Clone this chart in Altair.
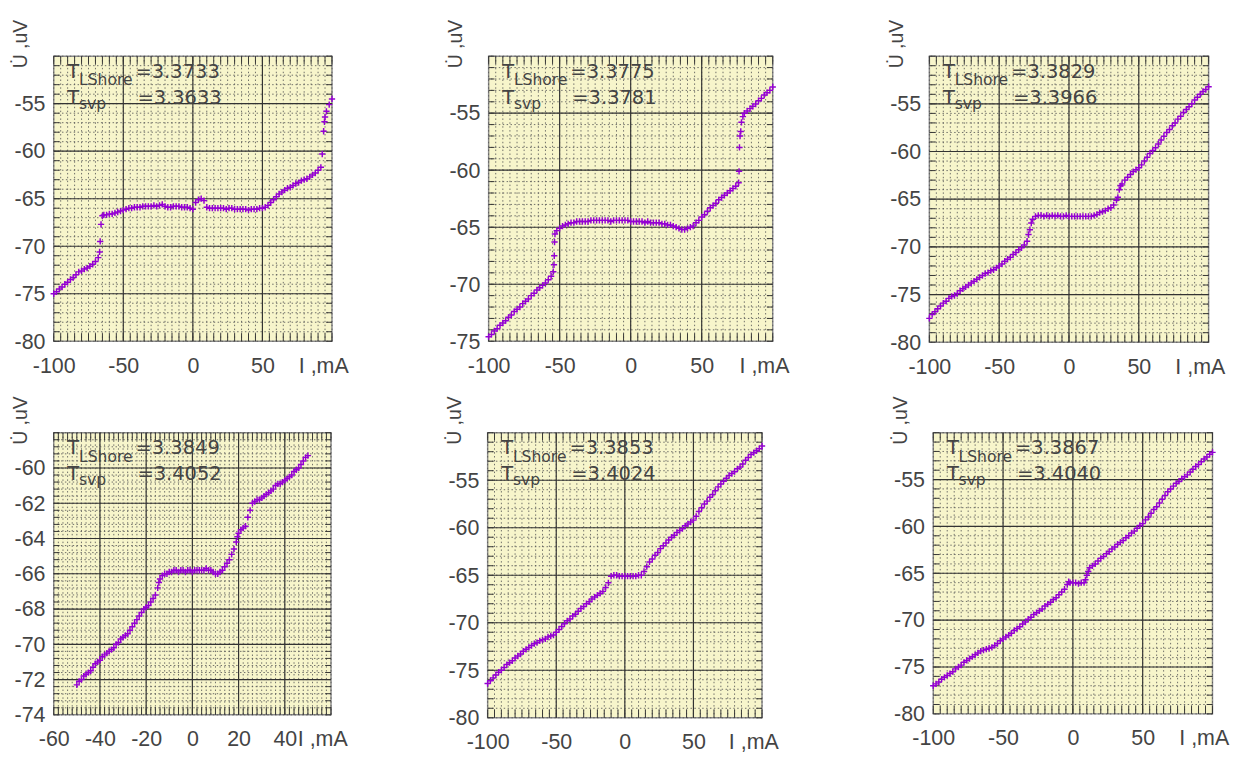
import altair as alt
import pandas as pd

# ---------------- data: (I [mA], U [uV]) ----------------
P1 = [(-100,-75.0),(-98,-74.8),(-96,-74.5),(-94,-74.3),(-92,-74.0),(-90,-73.8),(-88,-73.5),(-86,-73.3),
      (-84,-73.0),(-82,-72.7),(-80,-72.6),(-78,-72.4),(-76,-72.3),(-74,-72.1),(-72,-71.9),(-70,-71.6),
      (-68,-71.2),(-67,-70.6),(-66.6,-69.5),(-66,-67.7),(-65,-66.8),(-64,-66.7),(-62,-66.7),(-60,-66.6),
      (-58,-66.6),(-56,-66.5),(-54,-66.4),(-52,-66.3),(-50,-66.2),(-48,-66.1),(-46,-66.0),(-44,-66.0),
      (-42,-65.9),(-40,-65.9),(-38,-65.9),(-36,-65.8),(-34,-65.8),(-32,-65.8),(-30,-65.8),(-28,-65.7),
      (-26,-65.8),(-24,-65.7),(-22,-65.6),(-20,-65.8),(-18,-65.9),(-16,-65.9),(-14,-65.8),(-12,-65.8),
      (-10,-65.8),(-8,-65.9),(-6,-65.9),(-4,-65.9),(-2,-66.0),(0,-66.1),(2,-65.4),(4,-65.1),(6,-65.0),
      (8,-65.2),(10,-65.9),(12,-66.0),(14,-66.0),(16,-66.0),(18,-66.0),(20,-66.0),(22,-66.0),(24,-66.1),
      (26,-66.0),(28,-66.0),(30,-66.1),(32,-66.1),(34,-66.1),(36,-66.1),(38,-66.1),(40,-66.2),(42,-66.1),
      (44,-66.1),(46,-66.1),(48,-66.0),(50,-66.0),(52,-65.9),(54,-65.7),(56,-65.4),(58,-65.1),(60,-64.8),
      (62,-64.5),(64,-64.3),(66,-64.1),(68,-63.9),(70,-63.8),(72,-63.6),(74,-63.4),(76,-63.3),(78,-63.1),
      (80,-63.0),(82,-62.9),(84,-62.7),(86,-62.5),(88,-62.3),(90,-62.0),(92,-61.7),(93,-60.3),(94,-57.9),
      (94.6,-56.9),(95,-56.4),(96,-55.8),(98,-55.1),(100,-54.5)]

P2 = [(-100,-74.6),(-98,-74.4),(-96,-74.1),(-94,-73.9),(-92,-73.6),(-90,-73.4),(-88,-73.2),(-86,-72.9),
      (-84,-72.7),(-82,-72.4),(-80,-72.2),(-78,-72.0),(-76,-71.7),(-74,-71.5),(-72,-71.3),(-70,-71.0),
      (-68,-70.8),(-66,-70.5),(-64,-70.3),(-62,-70.1),(-60,-69.9),(-58,-69.6),(-56,-69.3),(-54.5,-68.9),
      (-54,-68.3),(-53.8,-67.5),(-53.6,-66.3),(-53.3,-65.6),(-52,-65.3),(-50,-65.1),(-48,-64.9),(-46,-64.8),
      (-44,-64.7),(-42,-64.6),(-40,-64.6),(-38,-64.5),(-36,-64.5),(-34,-64.5),(-32,-64.5),(-30,-64.5),
      (-28,-64.4),(-26,-64.4),(-24,-64.4),(-22,-64.4),(-20,-64.4),(-18,-64.4),(-16,-64.4),(-14,-64.5),
      (-12,-64.4),(-10,-64.4),(-8,-64.4),(-6,-64.4),(-4,-64.4),(-2,-64.4),(0,-64.5),(2,-64.5),(4,-64.5),
      (6,-64.5),(8,-64.5),(10,-64.6),(12,-64.5),(14,-64.6),(16,-64.6),(18,-64.6),(20,-64.6),(22,-64.7),
      (24,-64.7),(26,-64.8),(28,-64.8),(30,-64.9),(32,-65.0),(34,-65.1),(36,-65.2),(38,-65.2),(40,-65.1),
      (42,-65.0),(44,-64.9),(46,-64.6),(48,-64.4),(50,-64.1),(52,-63.9),(54,-63.6),(56,-63.3),(58,-63.1),
      (60,-62.9),(62,-62.6),(64,-62.4),(66,-62.2),(68,-62.0),(70,-61.8),(72,-61.6),(74,-61.4),(76,-61.1),
      (76.3,-60.1),(76.6,-58.0),(77,-57.0),(77.5,-56.6),(78,-55.8),(79,-55.3),(80,-55.0),(82,-54.8),
      (84,-54.6),(86,-54.4),(88,-54.2),(90,-53.9),(92,-53.7),(94,-53.4),(96,-53.2),(98,-53.0),(100,-52.7)]

P3 = [(-100,-77.5),(-98,-77.1),(-96,-76.8),(-94,-76.5),(-92,-76.2),(-90,-75.9),(-88,-75.7),(-86,-75.4),
      (-84,-75.2),(-82,-75.1),(-80,-74.9),(-78,-74.6),(-76,-74.4),(-74,-74.2),(-72,-74.0),(-70,-73.8),
      (-68,-73.6),(-66,-73.4),(-64,-73.2),(-62,-73.0),(-60,-72.8),(-58,-72.7),(-56,-72.5),(-54,-72.4),
      (-52,-72.2),(-50,-72.0),(-48,-71.8),(-46,-71.5),(-44,-71.3),(-42,-71.1),(-40,-70.8),(-38,-70.6),
      (-36,-70.3),(-34,-70.1),(-32,-69.8),(-30,-69.4),(-29,-68.7),(-28,-68.2),(-27,-67.5),(-26,-67.1),
      (-24,-66.8),(-22,-66.7),(-20,-66.7),(-18,-66.8),(-16,-66.7),(-14,-66.8),(-12,-66.7),(-10,-66.8),
      (-8,-66.7),(-6,-66.8),(-4,-66.8),(-2,-66.7),(0,-66.8),(2,-66.8),(4,-66.8),(6,-66.8),(8,-66.8),
      (10,-66.8),(12,-66.8),(14,-66.8),(16,-66.8),(18,-66.7),(20,-66.6),(22,-66.4),(24,-66.3),(26,-66.2),
      (28,-66.0),(30,-65.9),(32,-65.6),(34,-65.1),(35,-64.8),(36,-64.0),(37,-63.6),(38,-63.4),(40,-63.0),
      (42,-62.7),(44,-62.4),(46,-62.1),(48,-61.9),(50,-61.7),(52,-61.4),(54,-61.0),(56,-60.6),(58,-60.2),
      (60,-59.9),(62,-59.6),(64,-59.2),(66,-58.8),(68,-58.4),(70,-58.0),(72,-57.7),(74,-57.3),(76,-57.0),
      (78,-56.6),(80,-56.3),(82,-55.9),(84,-55.6),(86,-55.3),(88,-55.0),(90,-54.6),(92,-54.3),(94,-54.0),
      (96,-53.7),(98,-53.5),(100,-53.2)]

P4 = [(-50,-72.3),(-49,-72.1),(-48,-72.0),(-47,-71.8),(-46,-71.7),(-45,-71.6),(-44,-71.5),(-43,-71.3),
      (-42,-71.1),(-41,-71.0),(-40,-70.9),(-39,-70.7),(-38,-70.6),(-37,-70.5),(-36,-70.4),(-35,-70.3),
      (-34,-70.2),(-33,-70.0),(-32,-69.9),(-31,-69.7),(-30,-69.6),(-29,-69.5),(-28,-69.4),(-27,-69.2),
      (-26,-69.0),(-25,-68.8),(-24,-68.6),(-23,-68.4),(-22,-68.2),(-21,-68.0),(-20,-67.9),(-19,-67.8),
      (-18,-67.6),(-17,-67.4),(-16,-67.2),(-15,-66.8),(-14.5,-66.5),(-14,-66.3),(-13,-66.1),(-12,-66.0),
      (-11,-66.0),(-10,-65.9),(-9,-65.9),(-8,-65.8),(-7,-65.8),(-6,-65.9),(-5,-65.8),(-4,-65.8),(-3,-65.9),
      (-2,-65.8),(-1,-65.8),(0,-65.9),(1,-65.8),(2,-65.8),(3,-65.8),(4,-65.8),(5,-65.8),(6,-65.7),
      (7,-65.8),(8,-65.8),(9,-65.9),(10,-66.0),(11,-66.0),(12,-65.9),(13,-65.8),(14,-65.6),(15,-65.4),
      (16,-65.2),(17,-64.9),(18,-64.6),(19,-64.2),(19.5,-63.9),(20,-63.7),(21,-63.5),(22,-63.4),(23,-63.3),
      (24,-62.8),(25,-62.4),(26,-62.0),(27,-61.9),(28,-61.8),(29,-61.8),(30,-61.7),(31,-61.6),(32,-61.5),
      (33,-61.4),(34,-61.3),(35,-61.2),(36,-61.0),(37,-60.9),(38,-60.9),(39,-60.8),(40,-60.7),(41,-60.6),
      (42,-60.5),(43,-60.4),(44,-60.2),(45,-60.1),(46,-60.0),(47,-59.8),(48,-59.6),(49,-59.4),(50,-59.3)]

P5 = [(-100,-76.4),(-98,-76.1),(-96,-75.8),(-94,-75.5),(-92,-75.2),(-90,-75.0),(-88,-74.7),(-86,-74.4),
      (-84,-74.2),(-82,-74.0),(-80,-73.7),(-78,-73.5),(-76,-73.3),(-74,-73.0),(-72,-72.8),(-70,-72.6),
      (-68,-72.4),(-66,-72.2),(-64,-72.1),(-62,-71.9),(-60,-71.8),(-58,-71.7),(-56,-71.5),(-54,-71.4),
      (-52,-71.3),(-50,-71.0),(-48,-70.7),(-46,-70.4),(-44,-70.1),(-42,-69.8),(-40,-69.6),(-38,-69.3),
      (-36,-69.1),(-34,-68.8),(-32,-68.5),(-30,-68.3),(-28,-68.0),(-26,-67.8),(-24,-67.5),(-22,-67.3),
      (-20,-67.1),(-18,-66.9),(-16,-66.7),(-14,-66.3),(-12,-65.8),(-10,-65.1),(-8,-65.0),(-6,-65.0),
      (-4,-65.1),(-2,-65.1),(0,-65.1),(2,-65.1),(4,-65.1),(6,-65.1),(8,-65.1),(10,-65.0),(12,-65.0),
      (14,-64.6),(16,-64.1),(18,-63.6),(20,-63.3),(22,-62.9),(24,-62.6),(26,-62.2),(28,-61.9),(30,-61.6),
      (32,-61.3),(34,-61.0),(36,-60.8),(38,-60.5),(40,-60.3),(42,-60.1),(44,-59.8),(46,-59.6),(48,-59.4),
      (50,-59.2),(52,-58.8),(54,-58.3),(56,-57.9),(58,-57.5),(60,-57.2),(62,-56.8),(64,-56.5),(66,-56.1),
      (68,-55.7),(70,-55.4),(72,-55.1),(74,-54.8),(76,-54.5),(78,-54.3),(80,-54.1),(82,-53.8),(84,-53.6),
      (86,-53.3),(88,-52.9),(90,-52.6),(92,-52.3),(94,-52.1),(96,-51.9),(98,-51.7),(100,-51.4)]

P6 = [(-100,-77.0),(-98,-76.8),(-96,-76.6),(-94,-76.3),(-92,-76.1),(-90,-75.9),(-88,-75.7),(-86,-75.5),
      (-84,-75.2),(-82,-75.0),(-80,-74.8),(-78,-74.5),(-76,-74.3),(-74,-74.1),(-72,-73.9),(-70,-73.7),
      (-68,-73.5),(-66,-73.3),(-64,-73.2),(-62,-73.1),(-60,-73.0),(-58,-72.9),(-56,-72.7),(-54,-72.5),
      (-52,-72.2),(-50,-72.0),(-48,-71.8),(-46,-71.6),(-44,-71.4),(-42,-71.1),(-40,-70.9),(-38,-70.7),
      (-36,-70.4),(-34,-70.2),(-32,-69.9),(-30,-69.7),(-28,-69.4),(-26,-69.2),(-24,-69.0),(-22,-68.8),
      (-20,-68.5),(-18,-68.3),(-16,-68.1),(-14,-67.8),(-12,-67.6),(-10,-67.3),(-8,-67.0),(-6,-66.7),
      (-4,-66.2),(-3,-65.9),(-2,-66.0),(0,-66.0),(2,-66.0),(4,-66.1),(6,-66.0),(8,-66.0),(9,-65.7),
      (10,-65.2),(11,-64.8),(12,-64.4),(14,-64.2),(16,-64.0),(18,-63.7),(20,-63.4),(22,-63.2),(24,-62.9),
      (26,-62.7),(28,-62.4),(30,-62.2),(32,-61.9),(34,-61.7),(36,-61.5),(38,-61.2),(40,-61.0),(42,-60.7),
      (44,-60.5),(46,-60.2),(48,-59.9),(50,-59.7),(52,-59.3),(54,-59.0),(56,-58.6),(58,-58.2),(60,-57.9),
      (62,-57.5),(64,-57.1),(66,-56.7),(68,-56.3),(70,-56.0),(72,-55.7),(74,-55.4),(76,-55.2),(78,-54.9),
      (80,-54.7),(82,-54.5),(84,-54.2),(86,-53.9),(88,-53.6),(90,-53.4),(92,-53.1),(94,-52.8),(96,-52.6),
      (98,-52.3),(100,-52.1)]

SERIES = [P1, P2, P3, P4, P5, P6]
T_LSHORE = ["3.3733", "3.3775", "3.3829", "3.3849", "3.3853", "3.3867"]
T_SVP = ["3.3633", "3.3781", "3.3966", "3.4052", "3.4024", "3.4040"]

X_DOMAINS = [(-100, 100), (-100, 100), (-100, 100), (-60, 60), (-100, 100), (-100, 100)]
Y_DOMAINS = [(-80, -50), (-75, -50), (-80, -50), (-74, -58), (-80, -50), (-80, -50)]
X_TICKS = [[-100, -50, 0, 50, 100]] * 3 + [[-60, -40, -20, 0, 20, 40, 60]] + [[-100, -50, 0, 50, 100]] * 2
Y_TICKS = [[-80, -75, -70, -65, -60, -55], [-75, -70, -65, -60, -55], [-80, -75, -70, -65, -60, -55],
           [-74, -72, -70, -68, -66, -64, -62, -60], [-80, -75, -70, -65, -60, -55],
           [-80, -75, -70, -65, -60, -55]]
X_UNIT = "I ,mA"
Y_TITLE = "U\u0307 ,uV"

# ---------------- styling ----------------
BG = "#F7F5CB"
PURPLE = "#9400D3"
MAJOR = "#333333"
MINOR = "#555555"
FRAME = "#8c8c8c"
TXT = "#444444"
LABEL_FONT = "Liberation Sans"
ANN_FONT = "DejaVu Sans"
PLUS = "M-1,0L1,0M0,-1L0,1"
SIZES = [(286, 293), (292, 293), (287, 294), (285, 290), (282, 293), (287, 289)]
GRID = [  # (x major, y major, x minor, y minor)
    (50, 5, 5, 1), (50, 5, 5, 1), (50, 5, 5, 1), (20, 2, 2, 0.4), (50, 5, 5, 1), (50, 5, 5, 1)]


def steps(lo, hi, step):
    n = int(round((hi - lo) / step))
    return [round(lo + i * step, 4) for i in range(n + 1)]


def make_panel(i):
    data = pd.DataFrame(SERIES[i], columns=["I", "U"])
    xdom, ydom = X_DOMAINS[i], Y_DOMAINS[i]
    w, h = SIZES[i]
    xM, yM, xm, ym = GRID[i]
    xs = alt.Scale(domain=list(xdom), nice=False, zero=False)
    ys = alt.Scale(domain=list(ydom), nice=False, zero=False)
    last = f"datum.value == {xdom[1]}"

    ax_x = alt.Axis(
        values=X_TICKS[i], grid=False, ticks=False, tickSize=0, domain=False,
        labelExpr=f"{last} ? '{X_UNIT}' : '' + datum.value",
        labelOffset={"condition": {"test": last, "value": -9}, "value": 0},
        labelFont=LABEL_FONT, labelFontSize=22, labelColor=TXT, labelPadding=15,
        labelFlush=False, labelOverlap=False, title=None)
    ax_y = alt.Axis(
        values=Y_TICKS[i], grid=False, ticks=False, tickSize=0, domain=False,
        labelExpr="'' + datum.value",
        labelFont=LABEL_FONT, labelFontSize=22, labelColor=TXT, labelPadding=9,
        labelFlush=False, labelOverlap=False,
        title=Y_TITLE, titleFont=LABEL_FONT, titleFontSize=20, titleFontWeight="normal",
        titleColor=TXT, titleAngle=270, titleAlign="center", titleBaseline="middle",
        titleX=-34, titleY=-13)

    def X():
        return alt.X("I:Q", scale=xs, axis=ax_x)

    def Y():
        return alt.Y("U:Q", scale=ys, axis=ax_y)

    xminor = pd.DataFrame({"I": steps(xdom[0], xdom[1], xm)})
    yminor = pd.DataFrame({"U": steps(ydom[0], ydom[1], ym)})
    xmajor = pd.DataFrame({"I": steps(xdom[0], xdom[1], xM)[1:-1]})
    ymajor = pd.DataFrame({"U": steps(ydom[0], ydom[1], yM)[1:-1]})

    layers = [
        alt.Chart(xminor).mark_rule(color=MINOR, strokeDash=[1.5, 2.5], strokeWidth=1, opacity=0.85).encode(x=X()),
        alt.Chart(yminor).mark_rule(color=MINOR, strokeDash=[1.5, 2.5], strokeWidth=1, opacity=0.85).encode(y=Y()),
        alt.Chart(xmajor).mark_rule(color=MAJOR, strokeWidth=1.2).encode(x=X()),
        alt.Chart(ymajor).mark_rule(color=MAJOR, strokeWidth=1.2).encode(y=Y()),
        alt.Chart(xminor).mark_rule(color=MAJOR, strokeWidth=1).encode(x=X(), y=alt.value(h), y2=alt.value(h - 8)),
        alt.Chart(xminor).mark_rule(color=MAJOR, strokeWidth=1).encode(x=X(), y=alt.value(0), y2=alt.value(8)),
        alt.Chart(yminor).mark_rule(color=MAJOR, strokeWidth=1).encode(y=Y(), x=alt.value(0), x2=alt.value(6)),
        alt.Chart(yminor).mark_rule(color=MAJOR, strokeWidth=1).encode(y=Y(), x=alt.value(w), x2=alt.value(w - 6)),
        alt.Chart(data).mark_point(
            shape=PLUS, filled=False, size=42, strokeWidth=1.5, color=PURPLE, opacity=1
        ).encode(x=X(), y=Y()),
    ]

    one = pd.DataFrame({"k": [0]})

    def txt(s, size, dx, dy):
        return alt.Chart(one).mark_text(
            text=s, font=ANN_FONT, fontSize=size, color=TXT, align="left", baseline="alphabetic"
        ).encode(x=alt.value(dx), y=alt.value(dy))

    layers += [
        txt("T", 20, 14, 22), txt("LShore", 16, 26, 30), txt("=" + T_LSHORE[i], 20, 84, 22),
        txt("T", 20, 14, 49), txt("svp", 16, 26, 54), txt("=" + T_SVP[i], 20, 86, 49),
    ]
    return alt.layer(*layers).properties(width=w, height=h)


panels = [make_panel(i) for i in range(6)]
row1 = alt.hconcat(panels[0], panels[1], panels[2], spacing=98)
row2a = alt.hconcat(panels[3], panels[4], spacing=98)
row2 = alt.hconcat(row2a, panels[5], spacing=113)

chart = alt.vconcat(row1, row2, spacing=17).properties(
    padding={"left": 2, "top": 0, "right": 0, "bottom": 0}, background="white"
).configure_view(fill=BG, stroke=FRAME, strokeWidth=1.5)

chart.save("out.html", embed_options={"renderer": "svg", "actions": False})
